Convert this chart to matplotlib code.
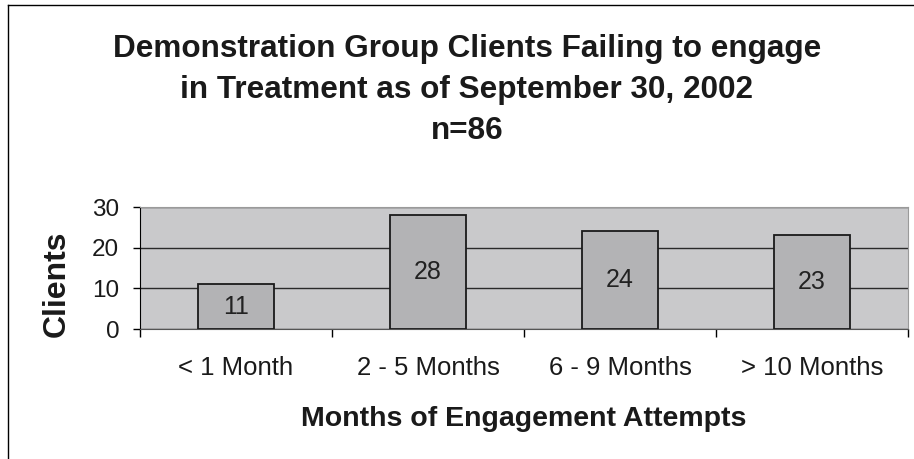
import matplotlib
matplotlib.use("Agg")
import matplotlib.pyplot as plt
from matplotlib.lines import Line2D
from matplotlib.transforms import blended_transform_factory

categories = ["< 1 Month", "2 - 5 Months", "6 - 9 Months", "> 10 Months"]
clients = [11, 28, 24, 23]
yticks = [0, 10, 20, 30]
title_lines = ["Demonstration Group Clients Failing to engage",
               "in Treatment as of September 30, 2002",
               "n=86"]

plt.rcParams['font.family'] = ['Liberation Sans', 'DejaVu Sans']

W, H = 914, 459
fig = plt.figure(figsize=(W / 100, H / 100), dpi=100)
fig.patch.set_facecolor('white')

def fy(py):
    return 1 - py / H

# partial frame
fig.add_artist(Line2D([8 / W, 1.0], [fy(5), fy(5)], color='black', lw=1.0))
fig.add_artist(Line2D([8 / W, 8 / W], [0, fy(5)], color='black', lw=1.0))

ax = fig.add_axes([140 / W, (H - 329) / H, 768 / W, 122 / H])
ax.set_facecolor('#c9c9cb')
x = list(range(len(categories)))
ax.set_xlim(-0.5, len(categories) - 0.5)
ax.set_ylim(0, 30)
ax.yaxis.grid(True, color='#2a2a2a', lw=1.0)
ax.set_axisbelow(True)
ax.bar(x, clients, width=0.4, color='#b3b3b5', edgecolor='#1a1a1a', linewidth=1.3, zorder=3)
for xi, v in zip(x, clients):
    ax.text(xi, v / 2, str(v), ha='center', va='center', fontsize=18, color='#222222', zorder=4)

ax.set_yticks(yticks)
ax.set_yticklabels([str(t) for t in yticks], fontsize=17.5, color='#1a1a1a')
ax.set_xticks([i - 0.5 for i in range(len(categories) + 1)])
ax.set_xticklabels([])
ax.tick_params(axis='x', length=5.5, width=1, direction='out', color='black')
ax.tick_params(axis='y', length=5, width=1, direction='out', pad=10)
tr = blended_transform_factory(ax.transData, fig.transFigure)
for xi, c in zip(x, categories):
    ax.text(xi, fy(375), c, transform=tr, ha='center', va='baseline',
            fontsize=18.5, color='#1a1a1a', clip_on=False)
for s in ['top', 'right']:
    ax.spines[s].set_color('#9a9a9a')
ax.spines['left'].set_color('black')
ax.spines['bottom'].set_color('#555555')

for line, base in zip(title_lines, [57, 98, 139]):
    fig.text(467 / W, fy(base), line, ha='center', va='baseline',
             fontsize=22.7, fontweight='bold', color='#1a1a1a')

fig.text(57 / W, fy(284), "Clients", rotation=90, ha='center', va='center',
         fontsize=23, fontweight='bold', color='#1a1a1a')
fig.text(524 / W, fy(426), "Months of Engagement Attempts", ha='center', va='baseline',
         fontsize=20.5, fontweight='bold', color='#1a1a1a')

fig.savefig("out.png", dpi=100)
